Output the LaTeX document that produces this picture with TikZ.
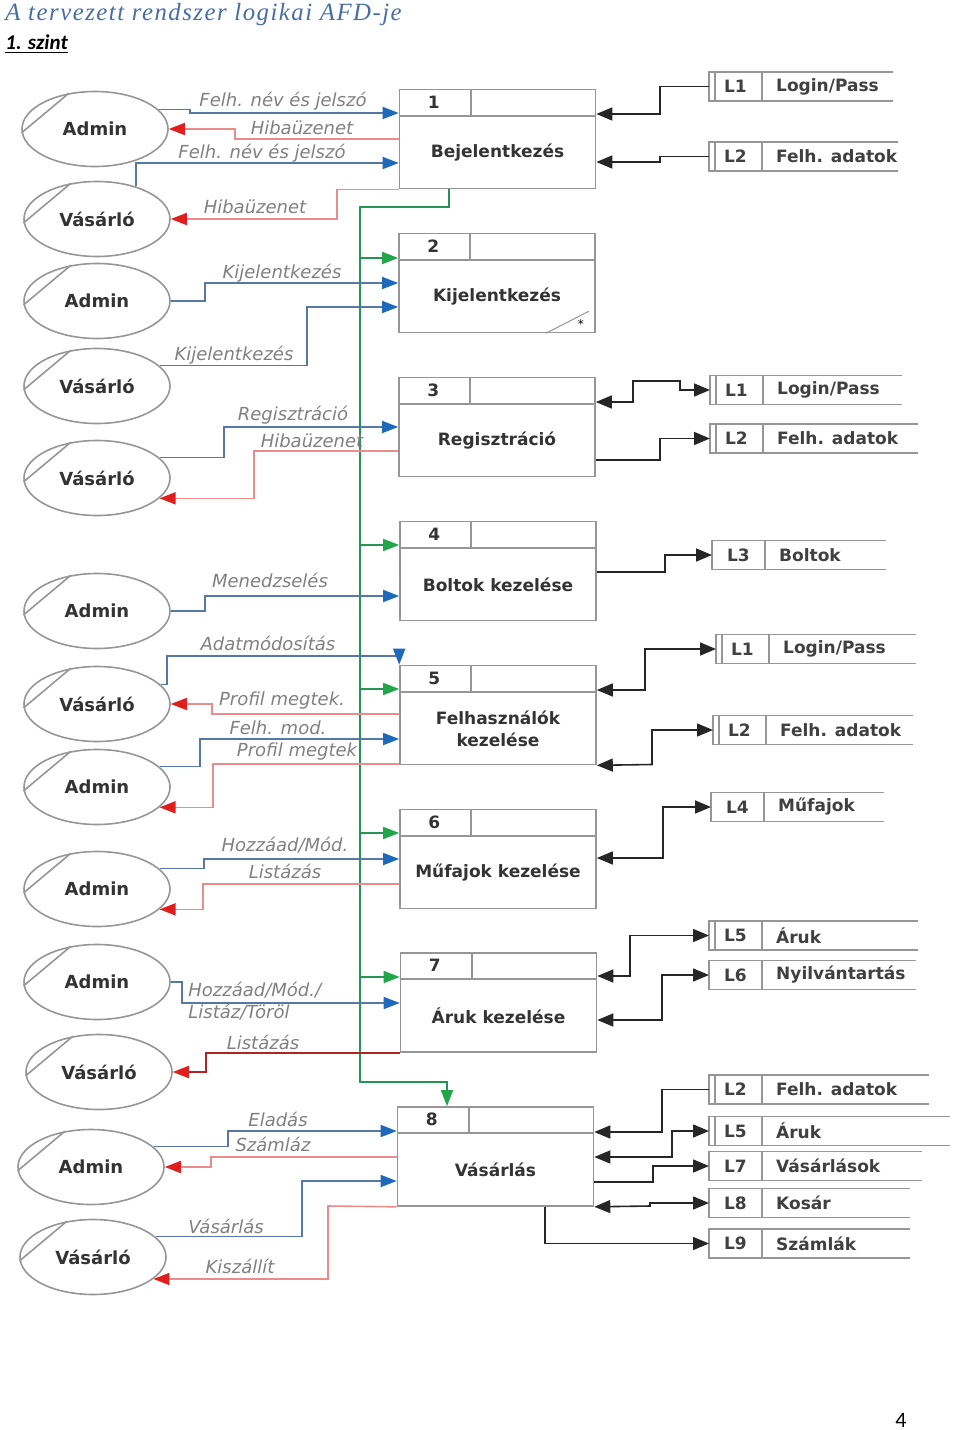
\documentclass[tikz,border=0pt]{standalone}
\usepackage{fontspec}
\setmainfont{DejaVu Sans}
\newfontfamily\cimfont[LetterSpace=6]{Liberation Serif}
\newfontfamily\calfont{Carlito}
\usetikzlibrary{arrows.meta,shapes.geometric}

\definecolor{kekvonal}{RGB}{85,120,165}
\definecolor{kekfej}{RGB}{30,105,185}
\definecolor{pirosvonal}{RGB}{235,140,140}
\definecolor{pirosfej}{RGB}{225,30,30}
\definecolor{sotetpiros}{RGB}{175,35,35}
\definecolor{zoldvonal}{RGB}{35,150,85}
\definecolor{zoldfej}{RGB}{35,165,75}
\definecolor{szurke}{RGB}{150,150,150}
\definecolor{cimszin}{RGB}{70,110,160}

\begin{document}
\begin{tikzpicture}[x=0.5pt, y=-0.5pt,
 every node/.style={font=\fontsize{8.5}{10}\selectfont},
 doboz/.style={draw=szurke, line width=0.8pt},
 folyamat/.style={doboz, rectangle, minimum width=98pt, minimum height=49.5pt, inner sep=0pt},
 ftext/.style={font=\bfseries\fontsize{8.5}{11}\selectfont, text=black!80, align=center},
 szam/.style={font=\bfseries\fontsize{8.5}{10}\selectfont, text=black!80},
 entitas/.style={doboz, ellipse, minimum width=73pt, minimum height=37.5pt, inner sep=0pt,
   font=\bfseries\fontsize{9}{10}\selectfont, text=black!80},
 tarolo/.style={minimum width=26pt, minimum height=14pt, inner sep=0pt,
   font=\bfseries\fontsize{8.5}{10}\selectfont, text=black!75},
 tnev/.style={inner sep=0pt, font=\bfseries\fontsize{8.5}{10}\selectfont, text=black!75},
 cimke/.style={inner sep=0pt, font=\itshape\fontsize{9}{10}\selectfont, text=black!50},
 kek/.style={draw=kekvonal, line width=0.8pt, -{Triangle[length=8pt,width=6pt,color=kekfej]}},
 piros/.style={draw=pirosvonal, line width=0.8pt, -{Triangle[length=8pt,width=6pt,color=pirosfej]}},
 sotet/.style={draw=sotetpiros, line width=0.8pt, -{Triangle[length=8pt,width=6pt,color=pirosfej]}},
 zold/.style={draw=zoldvonal, line width=0.8pt, -{Triangle[length=8pt,width=6pt,color=zoldfej]}},
 fekete/.style={draw=black!85, line width=0.8pt, -{Triangle[length=8pt,width=6.5pt]}},
 ketiranyu/.style={draw=black!85, line width=0.8pt, {Triangle[length=8pt,width=6.5pt]}-{Triangle[length=8pt,width=6.5pt]}}]
 \useasboundingbox (0,0) rectangle (960,1430);

 % cimsor
 \node[anchor=base west, inner sep=0pt, text=cimszin, font=\cimfont\itshape\fontsize{12.4}{14}\selectfont] (cim) at (5,20) {A tervezett rendszer logikai AFD-je};
 \node[anchor=base west, inner sep=0pt, font=\calfont\bfseries\itshape\fontsize{10.5}{12}\selectfont] (szint) at (5,49) {\underline{1. szint}};
 \node[font=\calfont\fontsize{11}{12}\selectfont] (oldal) at (901,1420) {4};

 % folyamatok
 \foreach \nm/\xx/\yy/\num/\txt in {p1/497.5/139/1/Bejelentkezés, p2/497/283/2/Kijelentkezés,
   p3/497/427/3/Regisztráció, p4/498/571/4/Boltok kezelése, p5/498/715/5/{Felhasználók\\kezelése},
   p6/498/859/6/Műfajok kezelése, p7/498.5/1002.5/7/Áruk kezelése, p8/495.5/1156.5/8/Vásárlás} {
   \node[folyamat] (\nm) at (\xx,\yy) {};
   \node[ftext] (\nm t) at ([yshift=-6.75pt]\nm.center) {\txt};
   \draw[doboz] ([yshift=-13.5pt]\nm.north west) -- ([yshift=-13.5pt]\nm.north east);
   \draw[doboz] ([xshift=36pt]\nm.north west) -- ++(0,-13.5pt);
   \node[szam] (\nm n) at ([xshift=17.5pt,yshift=-6.75pt]\nm.north west) {\num};
 }
 \draw[doboz, line width=0.5pt] ([xshift=-25pt]p2.south east) -- ([xshift=-3.5pt,yshift=11pt]p2.south east);
 \node[inner sep=0pt, font=\fontsize{6}{6}\selectfont] (csillag) at ([xshift=-7.5pt,yshift=4.5pt]p2.south east) {*};

 % kulso egyedek
 \foreach \nm/\xx/\yy/\txt in {e1/95/129/Admin, e2/97/219/Vásárló, e3/97/301/Admin, e4/97/386/Vásárló,
   e5/97/478/Vásárló, e6/97/611/Admin, e7/97/704/Vásárló, e8/97/787/Admin, e9/97/889/Admin,
   e10/97/982/Admin, e11/99/1072/Vásárló, e12/91/1167/Admin, e13/93/1257/Vásárló} {
   \node[entitas] (\nm) at (\xx,\yy) {\txt};
   \draw[doboz] (\nm.183) -- (\nm.126);
 }

 % adattarolok
 \foreach \nm/\xx/\yy/\jx/\id/\txt in {s1/709/86.5/893/L1/{Login/Pass}, s2/709/156.5/898/L2/Felh. adatok,
   s3/710/390/902/L1/{Login/Pass}, s4/710/438.5/918/L2/Felh. adatok, s5/712/555/886/L3/Boltok,
   s6/716/649/916/L1/{Login/Pass}, s7/713/730/913/L2/Felh. adatok, s8/711/807/884/L4/Műfajok,
   s9/709/935.5/918/L5/Áruk, s10/709/975/916/L6/Nyilvántartás, s11/709/1089.5/929/L2/Felh. adatok,
   s12/709/1131/950/L5/Áruk, s13/709/1166/922/L7/Vásárlások, s14/709/1203/910/L8/Kosár,
   s15/709/1243.5/910/L9/Számlák} {
   \node[tarolo, anchor=west] (\nm) at (\xx,\yy) {\id};
   \node[tnev, anchor=west] (\nm n) at ([xshift=7pt]\nm.east) {\txt};
   \draw[doboz] (\jx,0 |- \nm.north) -- (\nm.north west) -- (\nm.south west) -- (\jx,0 |- \nm.south);
   \draw[doboz] (\nm.north east) -- (\nm.south east);
 }
 \foreach \nm in {s1,s2,s3,s4,s6,s7,s9,s11,s12}
   \draw[doboz] ([xshift=3pt]\nm.north west) -- ([xshift=3pt]\nm.south west);

 % zold vezerlo vonal
 \draw[zold] (449,0 |- p1.south) |- (360,207) -- (360,1082) -| (447,0 |- p8.north);
 \foreach \nm/\yy in {p2/258, p4/545, p5/689, p6/833, p7/977}
   \draw[zold] (360,\yy) -- (\nm.west |- 0,\yy);

 % adatfolyamok balra
 \draw[kek] (e1.17) -| (190,113) -- (p1.west |- 0,113);
 \draw[piros] (p1.west |- 0,139) -| (235,129) -- (e1.east);
 \draw[kek] (e2.40) |- (p1.west |- 0,163);
 \draw[piros] (p1.south west) -| (337,219) -- (e2.east);
 \draw[kek] (e3.east) -| (205,283) -- (p2.west |- 0,283);
 \draw[kek] (e4.18) -| (307,307) -- (p2.west |- 0,307);
 \draw[kek] (e5.18) -| (224,427) -- (p3.west |- 0,427);
 \draw[piros] (p3.west |- 0,451) -- (254,451) |- (e5.-18);
 \draw[kek] (e6.east) -| (205,596) -- (p4.west |- 0,596);
 \draw[kek] (e7.17) -| (167,656) -| (p5.north west);
 \draw[piros] (p5.west |- 0,714) -| (212,704) -- (e7.east);
 \draw[kek] (e8.18) -| (200,739) -- (p5.west |- 0,739);
 \draw[piros] (p5.west |- 0,764) -- (213,764) |- (e8.-18);
 \draw[kek] (e9.18) -| (204,859) -- (p6.west |- 0,859);
 \draw[piros] (p6.west |- 0,884) -- (203,884) |- (e9.-18);
 \draw[kek] (e10.east) -| (182,1003) -- (p7.west |- 0,1003);
 \draw[sotet] (p7.south west) -| (206,1072) -- (e11.east);
 \draw[kek] (e12.18) -| (228,1131) -- (p8.west |- 0,1131);
 \draw[piros] (p8.west |- 0,1157) -| (211,1167) -- (e12.east);
 \draw[kek] (e13.18) -| (302,1181) -- (p8.west |- 0,1181);
 \draw[piros] (p8.south west) -- (328,1206) |- (e13.-20);

 % cimkek
 \node[cimke] (l1) at (283,101) {Felh. név és jelszó};
 \node[cimke] (l2) at (302,128) {Hibaüzenet};
 \node[cimke] (l3) at (262,153) {Felh. név és jelszó};
 \node[cimke] (l4) at (255,207) {Hibaüzenet};
 \node[cimke] (l5) at (282,273) {Kijelentkezés};
 \node[cimke] (l6) at (234,355) {Kijelentkezés};
 \node[cimke] (l7) at (293,415) {Regisztráció};
 \node[cimke] (l8) at (312,441) {Hibaüzenet};
 \node[cimke] (l9) at (270,580) {Menedzselés};
 \node[cimke] (l10) at (268,643) {Adatmódosítás};
 \node[cimke] (l11) at (282,701) {Profil megtek.};
 \node[cimke] (l12) at (278,728) {Felh. mod.};
 \node[cimke] (l13) at (297,752) {Profil megtek};
 \node[cimke] (l14) at (285,845) {Hozzáad/Mód.};
 \node[cimke] (l15) at (285,871) {Listázás};
 \node[cimke, anchor=west] (l16) at (188,990) {Hozzáad/Mód./};
 \node[cimke, anchor=west] (l17) at (188,1012) {Listáz/Töröl};
 \node[cimke] (l18) at (263,1042) {Listázás};
 \node[cimke] (l19) at (278,1119) {Eladás};
 \node[cimke] (l20) at (273,1144) {Számláz};
 \node[cimke] (l21) at (226,1226) {Vásárlás};
 \node[cimke] (l22) at (240,1266) {Kiszállít};

 % tarolok kapcsolatai
 \draw[fekete] (s1.west) -| (660,114) -- (p1.east |- 0,114);
 \draw[fekete] (s2.west) -| (660,162) -- (p1.east |- 0,162);
 \draw[ketiranyu] (p3.east |- 0,402) -| (633,381) -| (680,390) -- (s3.west);
 \draw[fekete] (p3.east |- 0,460) -- (660,460) |- (s4.west);
 \draw[fekete] (p4.east |- 0,572) -- (665,572) |- (s5.west);
 \draw[ketiranyu] (p5.east |- 0,690) -- (645,690) |- (s6.west);
 \draw[ketiranyu] (p5.south east) -- (652,764.5) |- (s7.west);
 \draw[ketiranyu] (p6.east |- 0,858) -- (663,858) |- (s8.west);
 \draw[ketiranyu] (p7.east |- 0,976) -- (630,976) |- (s9.west);
 \draw[ketiranyu] (p7.east |- 0,1020) -- (662,1020) |- (s10.west);
 \draw[fekete] (s11.west) -| (662,1132) -- (p8.east |- 0,1132);
 \draw[ketiranyu] (p8.east |- 0,1157) -- (672,1157) |- (s12.west);
 \draw[fekete] (p8.east |- 0,1182) -- (653,1182) |- (s13.west);
 \draw[ketiranyu] (p8.south east) -- (650,1206) |- (s14.west);
 \draw[fekete] (545,0 |- p8.south) |- (s15.west);
\end{tikzpicture}
\end{document}
